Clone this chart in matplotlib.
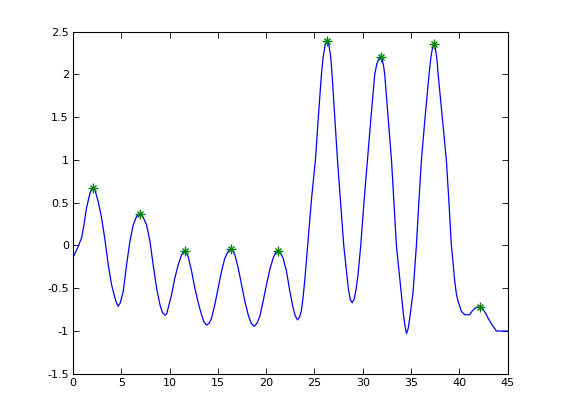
import numpy as np
import matplotlib
matplotlib.use("Agg")
import matplotlib.pyplot as plt

# curve (x, y)
x = [0.0, 0.1, 0.55, 0.9, 1.14, 1.41, 1.76, 1.95, 2.1, 2.3, 2.62, 2.97, 3.31, 3.66, 4.0,
     4.34, 4.5, 4.69, 4.9, 5.2, 5.55, 5.9, 6.24, 6.59, 6.75, 6.93, 7.1, 7.3, 7.62, 7.97,
     8.31, 8.66, 9.0, 9.25, 9.52, 9.7, 9.86, 10.21, 10.55, 10.9, 11.24, 11.42, 11.59,
     11.75, 11.93, 12.28, 12.62, 12.97, 13.31, 13.55, 13.83, 14.1, 14.35, 14.69, 15.03,
     15.38, 15.72, 16.07, 16.25, 16.41, 16.58, 16.76, 17.1, 17.45, 17.79, 18.14, 18.45,
     18.76, 19.05, 19.34, 19.69, 20.03, 20.38, 20.72, 21.0, 21.24, 21.5, 21.76, 22.1,
     22.45, 22.79, 23.0, 23.24, 23.45, 23.65, 23.83, 24.0, 24.17, 24.4, 24.7, 25.1, 25.4,
     25.72, 25.9, 26.1, 26.3, 26.5, 26.68, 26.82, 27.1, 27.38, 27.7, 28.03, 28.31, 28.5,
     28.7, 28.9, 29.1, 29.3, 29.5, 29.79, 30.12, 30.48, 30.85, 31.24, 31.45, 31.65, 31.86,
     32.0, 32.15, 32.27, 32.62, 32.97, 33.22, 33.48, 33.75, 34.0, 34.2, 34.34, 34.52,
     34.7, 34.86, 35.2, 35.55, 35.8, 36.07, 36.45, 36.86, 37.05, 37.22, 37.38, 37.52,
     37.68, 37.8, 38.22, 38.65, 38.92, 39.17, 39.34, 39.5, 39.69, 39.86, 40.2, 40.55,
     41.07, 41.3, 41.55, 41.8, 42.14, 42.4, 42.7, 42.97, 43.4, 43.83, 45.0]
y = [-0.13, -0.12, -0.01, 0.09, 0.24, 0.44, 0.61, 0.66, 0.67, 0.64, 0.51, 0.32, 0.07, -0.23, -0.46,
     -0.61, -0.67, -0.71, -0.67, -0.54, -0.23, 0.05, 0.24, 0.34, 0.36, 0.37, 0.36, 0.32, 0.24, 0.05,
     -0.23, -0.5, -0.69, -0.78, -0.815, -0.8, -0.73, -0.575, -0.38, -0.225, -0.11, -0.08, -0.07,
     -0.09, -0.13, -0.3, -0.5, -0.67, -0.81, -0.89, -0.93, -0.91, -0.85, -0.69, -0.5,
     -0.3, -0.15, -0.07, -0.05, -0.05, -0.07, -0.11, -0.26, -0.46, -0.65, -0.81, -0.91,
     -0.945, -0.91, -0.83, -0.65, -0.46, -0.28, -0.15, -0.08, -0.07, -0.09, -0.15, -0.3,
     -0.535, -0.73, -0.82, -0.87, -0.84, -0.76, -0.6, -0.4, -0.17, 0.15, 0.55, 1.0, 1.5,
     2.0, 2.2, 2.34, 2.39, 2.34, 2.2, 2.0, 1.5, 1.0, 0.5, 0.0, -0.3, -0.5,
     -0.63, -0.67, -0.63, -0.52, -0.35, 0.0, 0.5, 1.0, 1.5, 2.0, 2.12, 2.18, 2.2,
     2.17, 2.1, 2.0, 1.5, 1.0, 0.5, 0.0, -0.3, -0.58, -0.8, -0.92, -1.03,
     -0.97, -0.85, -0.55, 0.0, 0.5, 1.0, 1.5, 2.0, 2.2, 2.31, 2.35, 2.3,
     2.17, 2.0, 1.5, 1.0, 0.5, 0.0, -0.19, -0.4, -0.57, -0.65, -0.77, -0.81,
     -0.81, -0.77, -0.74, -0.72, -0.72, -0.74, -0.79, -0.85, -0.93, -1.0, -1.0]

# detected peaks
peak_x = [2.1, 6.93, 11.59, 16.37, 21.2, 26.3, 31.86, 37.38, 42.14]
peak_y = [0.67, 0.37, -0.07, -0.04, -0.07, 2.39, 2.2, 2.35, -0.72]

xticks = [0, 5, 10, 15, 20, 25, 30, 35, 40, 45]
yticks = [-1.5, -1, -0.5, 0, 0.5, 1, 1.5, 2, 2.5]
ytick_labels = ['-1.5', '-1', '-0.5', '0', '0.5', '1', '1.5', '2', '2.5']

fig = plt.figure(figsize=(5.61, 4.2), dpi=100)
ax = fig.add_axes([0.13, 0.11, 0.775, 0.815])

ax.plot(x, y, color='blue', lw=0.9)
green = (0, 0.5, 0)
ax.plot(peak_x, peak_y, '+', color=green, ms=7, mew=1.0, ls='none')
ax.plot(peak_x, peak_y, 'x', color=green, ms=4, mew=1.0, ls='none')

ax.set_xlim(0, 45)
ax.set_ylim(-1.5, 2.5)
ax.set_xticks(xticks)
ax.set_xticklabels([str(t) for t in xticks])
ax.set_yticks(yticks)
ax.set_yticklabels(ytick_labels)
ax.tick_params(direction='in', top=True, right=True, length=4, width=0.6,
               labelsize=8, pad=3)
for s in ax.spines.values():
    s.set_linewidth(0.8)

fig.savefig('out.png', dpi=100)
